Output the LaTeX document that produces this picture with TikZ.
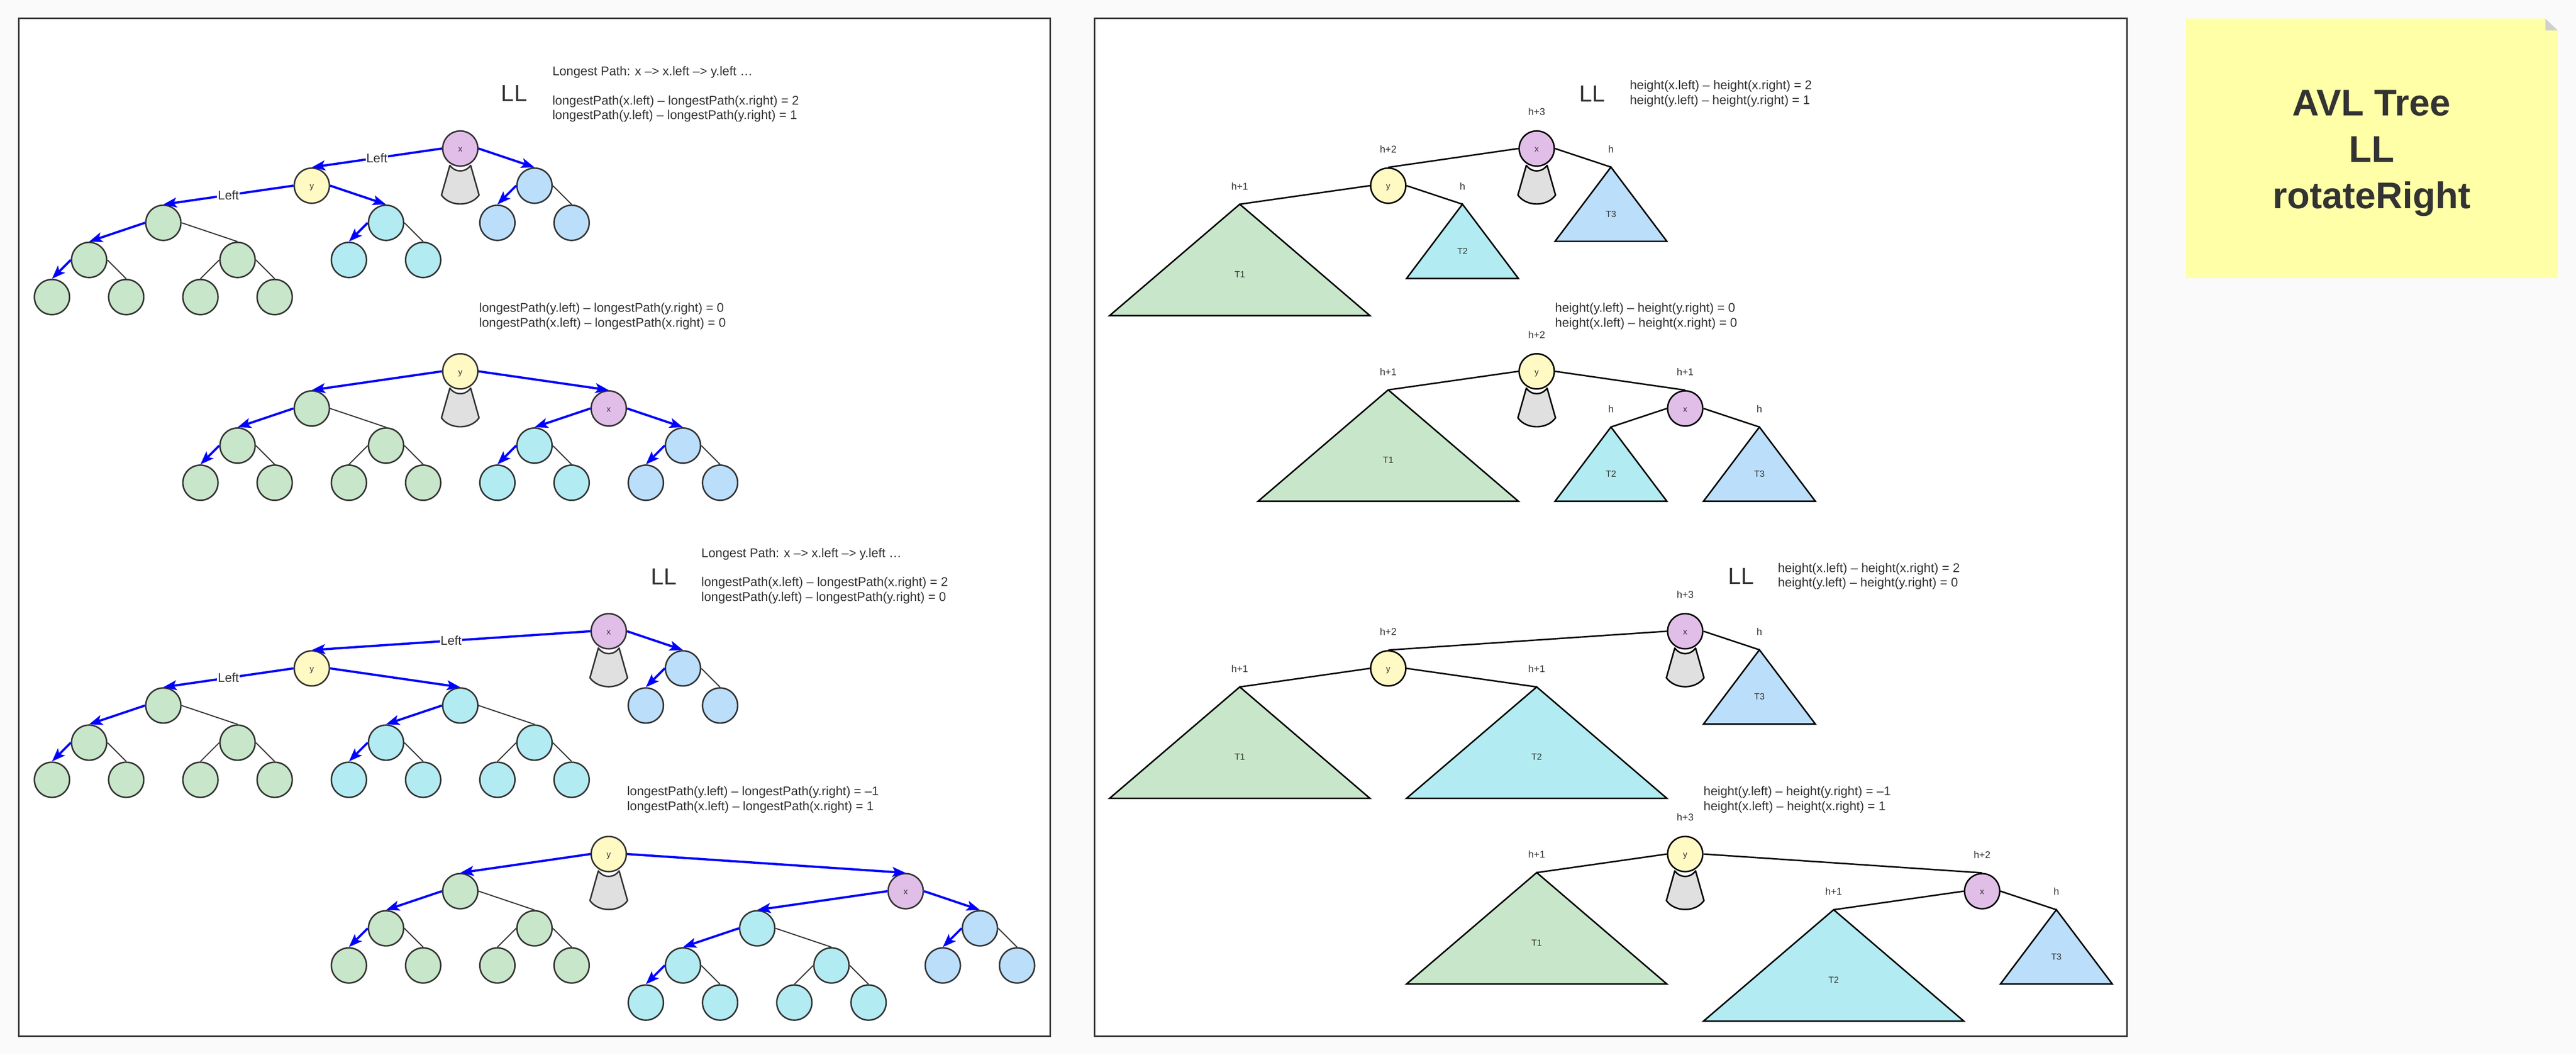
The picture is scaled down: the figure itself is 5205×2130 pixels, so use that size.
\documentclass[tikz,border=0pt]{standalone}
\usepackage{fontspec}
\setmainfont{Liberation Sans}
\usetikzlibrary{arrows.meta}
\definecolor{pagebg}{HTML}{FAFAFA}
\definecolor{txt}{HTML}{333333}
\definecolor{cgreen}{HTML}{C8E6C9}
\definecolor{ccyan}{HTML}{B2EBF2}
\definecolor{cblue}{HTML}{BBDEFB}
\definecolor{cyellow}{HTML}{FFF9C4}
\definecolor{cpurple}{HTML}{E1BEE7}
\definecolor{cgray}{HTML}{E0E0E0}
\definecolor{notefill}{HTML}{FFFFA8}
\definecolor{notefold}{HTML}{D0D0D0}
\definecolor{arrowblue}{HTML}{0000FF}
\newcommand\mybigtri[2]{\draw[tri,fill=#2] (#1) -- ++(-263,225) -- ++(526,0) -- cycle;}
\newcommand\mysmalltri[2]{\draw[tri,fill=#2] (#1) -- ++(-113,150) -- ++(226,0) -- cycle;}
\newcommand\myconeL[1]{\begin{scope}[shift={(#1)}]\draw[conel] (-21,34) .. controls (-10,49) and (10,49) .. (21,34) -- (38,94) .. controls (21,118) and (-21,118) .. (-38,94) -- cycle;\end{scope}}
\newcommand\myconeR[1]{\begin{scope}[shift={(#1)}]\draw[coner] (-21,34) .. controls (-10,49) and (10,49) .. (21,34) -- (38,94) .. controls (21,118) and (-21,118) .. (-38,94) -- cycle;\end{scope}}
\begin{document}
\begin{tikzpicture}[x=1pt,y=-1pt,
  vn/.style={circle, line width=3pt, minimum size=71pt, inner sep=0pt, font=\fontsize{17}{20}\selectfont, text=txt, text height=15.3pt, text depth=1.7pt},
  lnode/.style={vn, draw=txt},
  rnode/.style={vn, draw=black},
  ngreen/.style={lnode, fill=cgreen},
  ncyan/.style={lnode, fill=ccyan},
  nblue/.style={lnode, fill=cblue},
  nyellow/.style={lnode, fill=cyellow},
  npurple/.style={lnode, fill=cpurple},
  ryellow/.style={rnode, fill=cyellow},
  rpurple/.style={rnode, fill=cpurple},
  bluearrow/.style={draw=arrowblue, line width=4.5pt, -{Stealth[length=27pt,width=20pt,inset=6pt]}},
  plainedge/.style={draw=txt, line width=2.2pt},
  rline/.style={draw=black, line width=3pt},
  leftlbl/.style={fill=white, inner sep=1.5pt, font=\fontsize{25.5}{30}\selectfont, text=txt, text height=18.3pt, text depth=0pt},
  formula/.style={anchor=west, inner sep=0pt, font=\fontsize{25.5}{30}\selectfont, text=txt, text height=18.6pt, text depth=5.4pt},
  bigLL/.style={inner sep=0pt, font=\fontsize{47}{50}\selectfont, text=txt, text height=33.7pt, text depth=0pt},
  hlabel/.style={inner sep=0pt, font=\fontsize{20}{24}\selectfont, text=txt, text height=14.3pt, text depth=0pt},
  tlabel/.style={inner sep=0pt, font=\fontsize{18}{22}\selectfont, text=txt, text height=12.9pt, text depth=0pt},
  conel/.style={fill=cgray, draw=txt, line width=3pt, line join=round},
  coner/.style={fill=cgray, draw=black, line width=3pt, line join=round},
  tri/.style={draw=black, line width=3pt, line join=miter},
  panel/.style={draw=txt, fill=white, line width=3pt}
]
\useasboundingbox (0,0) rectangle (5205,2130);
\fill[pagebg] (0,0) rectangle (5205,2130);
% panels
\draw[panel] (38,37) rectangle (2122,2093);
\draw[panel] (2212,37) rectangle (4298,2093);
% sticky note
\fill[notefill] (4417,37.5) -- (5143,37.5) -- (5168,61.5) -- (5168,561.5) -- (4417,561.5) -- cycle;
\fill[notefold] (5143,37.5) -- (5143,61.5) -- (5168,61.5) -- cycle;
\node[align=center, text=txt, font=\fontsize{75}{93.7}\selectfont\bfseries] (note) at (4792,310) {AVL Tree\\LL\\rotateRight};

% ================= LEFT PANEL =================
% ---- Tree 1 ----
\node[formula] (t1a) at (1116,146) {Longest Path: x –> x.left –> y.left …};
\node[bigLL] (t1LL) at (1039,188) {LL};
\node[formula] (t1b) at (1116,205) {longestPath(x.left) – longestPath(x.right) = 2};
\node[formula] (t1c) at (1116,234) {longestPath(y.left) – longestPath(y.right) = 1};
\myconeL{930,300}
\node[npurple] (ax) at (930,300) {x};
\node[nyellow] (ay) at (630,375) {y};
\node[nblue] (axr) at (1080,375) {};
\node[ngreen] (ag1) at (330,450) {};
\node[ncyan] (ac1) at (780,450) {};
\node[nblue] (ab1) at (1005,450) {};
\node[nblue] (ab2) at (1155,450) {};
\node[ngreen] (ag2) at (180,525) {};
\node[ngreen] (ag3) at (480,525) {};
\node[ncyan] (ac2) at (705,525) {};
\node[ncyan] (ac3) at (855,525) {};
\node[ngreen] (ag4) at (105,600) {};
\node[ngreen] (ag5) at (255,600) {};
\node[ngreen] (ag6) at (405,600) {};
\node[ngreen] (ag7) at (555,600) {};
\draw[bluearrow] (ax.west) -- node[leftlbl] (al1) {Left} (ay.north);
\draw[bluearrow] (ax.east) -- (axr.north);
\draw[bluearrow] (ay.west) -- node[leftlbl] (al2) {Left} (ag1.north);
\draw[bluearrow] (ay.east) -- (ac1.north);
\draw[bluearrow] (ag1.west) -- (ag2.north);
\draw[plainedge] (ag1.east) -- (ag3.north);
\draw[bluearrow] (ag2.west) -- (ag4.north);
\draw[plainedge] (ag2.east) -- (ag5.north);
\draw[plainedge] (ag3.west) -- (ag6.north);
\draw[plainedge] (ag3.east) -- (ag7.north);
\draw[bluearrow] (ac1.west) -- (ac2.north);
\draw[plainedge] (ac1.east) -- (ac3.north);
\draw[bluearrow] (axr.west) -- (ab1.north);
\draw[plainedge] (axr.east) -- (ab2.north);

% ---- Tree 2 ----
\node[formula] (t2a) at (968,624) {longestPath(y.left) – longestPath(y.right) = 0};
\node[formula] (t2b) at (968,654) {longestPath(x.left) – longestPath(x.right) = 0};
\myconeL{930,750}
\node[nyellow] (by) at (930,750) {y};
\node[ngreen] (bg1) at (630,825) {};
\node[npurple] (bx) at (1230,825) {x};
\node[ngreen] (bg2) at (480,900) {};
\node[ngreen] (bg3) at (780,900) {};
\node[ncyan] (bc1) at (1080,900) {};
\node[nblue] (bb1) at (1380,900) {};
\node[ngreen] (bg4) at (405,975) {};
\node[ngreen] (bg5) at (555,975) {};
\node[ngreen] (bg6) at (705,975) {};
\node[ngreen] (bg7) at (855,975) {};
\node[ncyan] (bc2) at (1005,975) {};
\node[ncyan] (bc3) at (1155,975) {};
\node[nblue] (bb2) at (1305,975) {};
\node[nblue] (bb3) at (1455,975) {};
\draw[bluearrow] (by.west) -- (bg1.north);
\draw[bluearrow] (by.east) -- (bx.north);
\draw[bluearrow] (bg1.west) -- (bg2.north);
\draw[plainedge] (bg1.east) -- (bg3.north);
\draw[bluearrow] (bg2.west) -- (bg4.north);
\draw[plainedge] (bg2.east) -- (bg5.north);
\draw[plainedge] (bg3.west) -- (bg6.north);
\draw[plainedge] (bg3.east) -- (bg7.north);
\draw[bluearrow] (bx.west) -- (bc1.north);
\draw[bluearrow] (bx.east) -- (bb1.north);
\draw[bluearrow] (bc1.west) -- (bc2.north);
\draw[plainedge] (bc1.east) -- (bc3.north);
\draw[bluearrow] (bb1.west) -- (bb2.north);
\draw[plainedge] (bb1.east) -- (bb3.north);

% ---- Tree 3 ----
\node[formula] (t3a) at (1417,1119) {Longest Path: x –> x.left –> y.left …};
\node[bigLL] (t3LL) at (1341,1164) {LL};
\node[formula] (t3b) at (1417,1178) {longestPath(x.left) – longestPath(x.right) = 2};
\node[formula] (t3c) at (1417,1208) {longestPath(y.left) – longestPath(y.right) = 0};
\myconeL{1230,1275}
\node[npurple] (cx) at (1230,1275) {x};
\node[nyellow] (cy) at (630,1350) {y};
\node[nblue] (cxr) at (1380,1350) {};
\node[ngreen] (cg1) at (330,1425) {};
\node[ncyan] (cc1) at (930,1425) {};
\node[nblue] (cb1) at (1305,1425) {};
\node[nblue] (cb2) at (1455,1425) {};
\node[ngreen] (cg2) at (180,1500) {};
\node[ngreen] (cg3) at (480,1500) {};
\node[ncyan] (cc2) at (780,1500) {};
\node[ncyan] (cc3) at (1080,1500) {};
\node[ngreen] (cg4) at (105,1575) {};
\node[ngreen] (cg5) at (255,1575) {};
\node[ngreen] (cg6) at (405,1575) {};
\node[ngreen] (cg7) at (555,1575) {};
\node[ncyan] (cc4) at (705,1575) {};
\node[ncyan] (cc5) at (855,1575) {};
\node[ncyan] (cc6) at (1005,1575) {};
\node[ncyan] (cc7) at (1155,1575) {};
\draw[bluearrow] (cx.west) -- node[leftlbl] (cl1) {Left} (cy.north);
\draw[bluearrow] (cx.east) -- (cxr.north);
\draw[bluearrow] (cy.west) -- node[leftlbl] (cl2) {Left} (cg1.north);
\draw[bluearrow] (cy.east) -- (cc1.north);
\draw[bluearrow] (cg1.west) -- (cg2.north);
\draw[plainedge] (cg1.east) -- (cg3.north);
\draw[bluearrow] (cg2.west) -- (cg4.north);
\draw[plainedge] (cg2.east) -- (cg5.north);
\draw[plainedge] (cg3.west) -- (cg6.north);
\draw[plainedge] (cg3.east) -- (cg7.north);
\draw[bluearrow] (cc1.west) -- (cc2.north);
\draw[plainedge] (cc1.east) -- (cc3.north);
\draw[bluearrow] (cc2.west) -- (cc4.north);
\draw[plainedge] (cc2.east) -- (cc5.north);
\draw[plainedge] (cc3.west) -- (cc6.north);
\draw[plainedge] (cc3.east) -- (cc7.north);
\draw[bluearrow] (cxr.west) -- (cb1.north);
\draw[plainedge] (cxr.east) -- (cb2.north);

% ---- Tree 4 ----
\node[formula] (t4a) at (1267,1600) {longestPath(y.left) – longestPath(y.right) = –1};
\node[formula] (t4b) at (1267,1630) {longestPath(x.left) – longestPath(x.right) = 1};
\myconeL{1230,1725}
\node[nyellow] (dy) at (1230,1725) {y};
\node[ngreen] (dg1) at (930,1800) {};
\node[npurple] (dx) at (1830,1800) {x};
\node[ngreen] (dg2) at (780,1875) {};
\node[ngreen] (dg3) at (1080,1875) {};
\node[ncyan] (dc1) at (1530,1875) {};
\node[nblue] (db1) at (1980,1875) {};
\node[ngreen] (dg4) at (705,1950) {};
\node[ngreen] (dg5) at (855,1950) {};
\node[ngreen] (dg6) at (1005,1950) {};
\node[ngreen] (dg7) at (1155,1950) {};
\node[ncyan] (dc2) at (1380,1950) {};
\node[ncyan] (dc3) at (1680,1950) {};
\node[nblue] (db2) at (1905,1950) {};
\node[nblue] (db3) at (2055,1950) {};
\node[ncyan] (dc4) at (1305,2025) {};
\node[ncyan] (dc5) at (1455,2025) {};
\node[ncyan] (dc6) at (1605,2025) {};
\node[ncyan] (dc7) at (1755,2025) {};
\draw[bluearrow] (dy.west) -- (dg1.north);
\draw[bluearrow] (dy.east) -- (dx.north);
\draw[bluearrow] (dg1.west) -- (dg2.north);
\draw[plainedge] (dg1.east) -- (dg3.north);
\draw[bluearrow] (dg2.west) -- (dg4.north);
\draw[plainedge] (dg2.east) -- (dg5.north);
\draw[plainedge] (dg3.west) -- (dg6.north);
\draw[plainedge] (dg3.east) -- (dg7.north);
\draw[bluearrow] (dx.west) -- (dc1.north);
\draw[bluearrow] (dx.east) -- (db1.north);
\draw[bluearrow] (dc1.west) -- (dc2.north);
\draw[plainedge] (dc1.east) -- (dc3.north);
\draw[bluearrow] (dc2.west) -- (dc4.north);
\draw[plainedge] (dc2.east) -- (dc5.north);
\draw[plainedge] (dc3.west) -- (dc6.north);
\draw[plainedge] (dc3.east) -- (dc7.north);
\draw[bluearrow] (db1.west) -- (db2.north);
\draw[plainedge] (db1.east) -- (db3.north);

% ================= RIGHT PANEL =================
% ---- Tree A ----
\node[bigLL] (rALL) at (3217,189) {LL};
\node[formula] (rAt1) at (3293,174) {height(x.left) – height(x.right) = 2};
\node[formula] (rAt2) at (3293,204) {height(y.left) – height(y.right) = 1};
\coordinate (rAT1) at (2505,412.5);
\coordinate (rAT2) at (2955,412.5);
\coordinate (rAT3) at (3255,337.5);
\mybigtri{rAT1}{cgreen}
\mysmalltri{rAT2}{ccyan}
\mysmalltri{rAT3}{cblue}
\myconeR{3105,300}
\node[rpurple] (rAx) at (3105,300) {x};
\node[ryellow] (rAy) at (2805,375) {y};
\draw[rline] (rAx.west) -- (rAy.north);
\draw[rline] (rAx.east) -- (rAT3);
\draw[rline] (rAy.west) -- (rAT1);
\draw[rline] (rAy.east) -- (rAT2);
\node[hlabel] (rAh1) at (3105,226) {h+3};
\node[hlabel] (rAh2) at (2805,301.5) {h+2};
\node[hlabel] (rAh3) at (2505,376) {h+1};
\node[hlabel] (rAh4) at (2955,376) {h};
\node[hlabel] (rAh5) at (3255,301) {h};
\node[tlabel] (rAl1) at (2505,554) {T1};
\node[tlabel] (rAl2) at (2955,507) {T2};
\node[tlabel] (rAl3) at (3255,432) {T3};

% ---- Tree B ----
\node[formula] (rBt1) at (3142,624) {height(y.left) – height(y.right) = 0};
\node[formula] (rBt2) at (3142,654) {height(x.left) – height(x.right) = 0};
\coordinate (rBT1) at (2805,787.5);
\coordinate (rBT2) at (3255,862.5);
\coordinate (rBT3) at (3555,862.5);
\mybigtri{rBT1}{cgreen}
\mysmalltri{rBT2}{ccyan}
\mysmalltri{rBT3}{cblue}
\myconeR{3105,750}
\node[ryellow] (rBy) at (3105,750) {y};
\node[rpurple] (rBx) at (3405,825) {x};
\draw[rline] (rBy.west) -- (rBT1);
\draw[rline] (rBy.east) -- (rBx.north);
\draw[rline] (rBx.west) -- (rBT2);
\draw[rline] (rBx.east) -- (rBT3);
\node[hlabel] (rBh1) at (3105,676) {h+2};
\node[hlabel] (rBh2) at (2805,751) {h+1};
\node[hlabel] (rBh3) at (3405,751) {h+1};
\node[hlabel] (rBh4) at (3255,826) {h};
\node[hlabel] (rBh5) at (3555,826) {h};
\node[tlabel] (rBl1) at (2805,929) {T1};
\node[tlabel] (rBl2) at (3255,957) {T2};
\node[tlabel] (rBl3) at (3555,957) {T3};

% ---- Tree C ----
\node[bigLL] (rCLL) at (3518,1163) {LL};
\node[formula] (rCt1) at (3592,1149) {height(x.left) – height(x.right) = 2};
\node[formula] (rCt2) at (3592,1179) {height(y.left) – height(y.right) = 0};
\coordinate (rCT1) at (2505,1387.5);
\coordinate (rCT2) at (3105,1387.5);
\coordinate (rCT3) at (3555,1312.5);
\mybigtri{rCT1}{cgreen}
\mybigtri{rCT2}{ccyan}
\mysmalltri{rCT3}{cblue}
\myconeR{3405,1275}
\node[rpurple] (rCx) at (3405,1275) {x};
\node[ryellow] (rCy) at (2805,1350) {y};
\draw[rline] (rCx.west) -- (rCy.north);
\draw[rline] (rCx.east) -- (rCT3);
\draw[rline] (rCy.west) -- (rCT1);
\draw[rline] (rCy.east) -- (rCT2);
\node[hlabel] (rCh1) at (3405,1201) {h+3};
\node[hlabel] (rCh2) at (2805,1276) {h+2};
\node[hlabel] (rCh3) at (2505,1351) {h+1};
\node[hlabel] (rCh4) at (3105,1351) {h+1};
\node[hlabel] (rCh5) at (3555,1276) {h};
\node[tlabel] (rCl1) at (2505,1529) {T1};
\node[tlabel] (rCl2) at (3105,1529) {T2};
\node[tlabel] (rCl3) at (3555,1407) {T3};

% ---- Tree D ----
\node[formula] (rDt1) at (3442,1600) {height(y.left) – height(y.right) = –1};
\node[formula] (rDt2) at (3442,1630) {height(x.left) – height(x.right) = 1};
\coordinate (rDT1) at (3105,1762.5);
\coordinate (rDT2) at (3705,1837.5);
\coordinate (rDT3) at (4155,1837.5);
\mybigtri{rDT1}{cgreen}
\mybigtri{rDT2}{ccyan}
\mysmalltri{rDT3}{cblue}
\myconeR{3405,1725}
\node[ryellow] (rDy) at (3405,1725) {y};
\node[rpurple] (rDx) at (4005,1800) {x};
\draw[rline] (rDy.west) -- (rDT1);
\draw[rline] (rDy.east) -- (rDx.north);
\draw[rline] (rDx.west) -- (rDT2);
\draw[rline] (rDx.east) -- (rDT3);
\node[hlabel] (rDh1) at (3405,1651) {h+3};
\node[hlabel] (rDh2) at (3105,1726) {h+1};
\node[hlabel] (rDh3) at (4005,1727) {h+2};
\node[hlabel] (rDh4) at (3705,1801) {h+1};
\node[hlabel] (rDh5) at (4155,1801) {h};
\node[tlabel] (rDl1) at (3105,1904) {T1};
\node[tlabel] (rDl2) at (3705,1979) {T2};
\node[tlabel] (rDl3) at (4155,1932) {T3};
\end{tikzpicture}
\end{document}
